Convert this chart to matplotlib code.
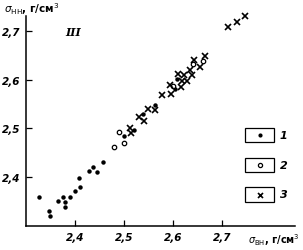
import matplotlib
matplotlib.use("Agg")
import matplotlib.pyplot as plt
from matplotlib.patches import Rectangle
from matplotlib.lines import Line2D

# Group 1 (filled dots)
x1 = [2.327, 2.346, 2.348, 2.365, 2.375, 2.380, 2.380, 2.390, 2.399, 2.409, 2.411,
      2.429, 2.437, 2.444, 2.457, 2.500, 2.521, 2.539, 2.563, 2.604, 2.608]
y1 = [2.360, 2.331, 2.320, 2.350, 2.360, 2.348, 2.338, 2.360, 2.371, 2.399, 2.379,
      2.412, 2.420, 2.411, 2.430, 2.484, 2.497, 2.529, 2.549, 2.582, 2.601]
# Group 2 (open circles)
x2 = [2.480, 2.489, 2.500, 2.599, 2.641, 2.661]
y2 = [2.461, 2.492, 2.470, 2.588, 2.632, 2.638]
# Group 3 (crosses)
x3 = [2.512, 2.514, 2.531, 2.541, 2.550, 2.563, 2.577, 2.595, 2.594, 2.616, 2.618,
      2.628, 2.611, 2.623, 2.635, 2.639, 2.643, 2.655, 2.665, 2.713, 2.731, 2.746]
y3 = [2.501, 2.490, 2.523, 2.516, 2.540, 2.538, 2.568, 2.570, 2.589, 2.586, 2.597,
      2.597, 2.612, 2.610, 2.621, 2.610, 2.640, 2.627, 2.649, 2.709, 2.718, 2.731]

xticks = [2.4, 2.5, 2.6, 2.7]
yticks = [2.4, 2.5, 2.6, 2.7]
tick_labels = ["2,4", "2,5", "2,6", "2,7"]
legend_labels = ["1", "2", "3"]

W, H = 303, 251
fig = plt.figure(figsize=(W / 100, H / 100), dpi=100)
ax = fig.add_axes([26 / W, (H - 227) / H, (295 - 26) / W, (227 - 17) / H])

ax.plot(x1, y1, 'o', color='black', ms=3.2, mew=0, clip_on=False)
ax.plot(x2, y2, 'o', mfc='white', mec='black', ms=3.2, mew=0.9, clip_on=False)
ax.plot(x3, y3, 'x', color='black', ms=3.8, mew=1.2, clip_on=False)

ax.set_xlim(2.3, 2.849)
ax.set_ylim(2.2995, 2.731)
ax.set_xticks(xticks)
ax.set_xticklabels(tick_labels)
ax.set_yticks(yticks)
ax.set_yticklabels(tick_labels)
for s in ['top', 'right']:
    ax.spines[s].set_visible(False)
for s in ['left', 'bottom']:
    ax.spines[s].set_linewidth(1.1)
ax.tick_params(direction='in', length=4, width=0.9, labelsize=7.5, pad=4)
for lab in ax.get_xticklabels() + ax.get_yticklabels():
    lab.set_fontstyle('italic')
    lab.set_fontweight('bold')

fig.text(4 / W, 1 - 9 / H, r'$\sigma_{\mathrm{НН}}$' + ', г/см$^3$', fontsize=7.5,
         ha='left', va='center', fontweight='bold')
fig.text(300 / W, 1 - 240 / H, r'$\sigma_{\mathrm{ВН}}$' + ', г/см$^3$', fontsize=7.0,
         ha='right', va='center', fontweight='bold')
fig.text(65 / W, 1 - 33 / H, 'III', fontsize=8, style='italic', fontweight='bold',
         ha='left', va='center', family='DejaVu Serif')

# legend boxes
boxes = [(129, 143), (159, 173), (188, 203)]
styles = [dict(marker='o', color='black', ms=3.0, mew=0),
          dict(marker='o', mfc='white', mec='black', ms=3.0, mew=0.9),
          dict(marker='x', color='black', ms=3.6, mew=1.2)]
for (top, bot), st, lab in zip(boxes, styles, legend_labels):
    fig.add_artist(Rectangle((245 / W, 1 - bot / H), 29 / W, (bot - top) / H,
                             transform=fig.transFigure, fill=False, lw=0.9, ec='black'))
    yc = 1 - (top + bot) / 2 / H
    fig.add_artist(Line2D([259.5 / W], [yc], transform=fig.transFigure, linestyle='none', **st))
    fig.text(280 / W, yc, lab, fontsize=8, style='italic', fontweight='bold',
             ha='left', va='center')

fig.savefig('out.png', dpi=100)
